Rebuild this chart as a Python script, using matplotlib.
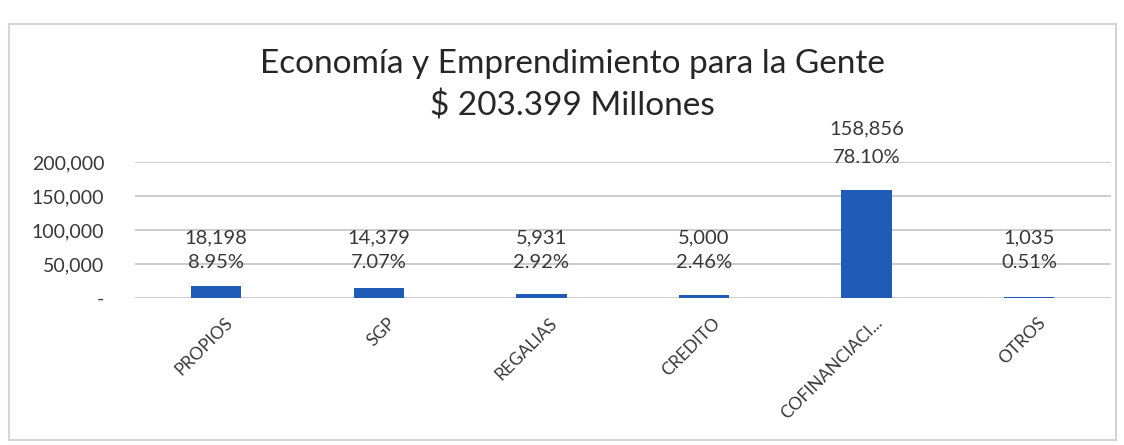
import matplotlib
matplotlib.use('Agg')
import matplotlib.pyplot as plt
from matplotlib.patches import Rectangle
from matplotlib.ticker import FuncFormatter
from matplotlib.transforms import ScaledTranslation

# Datos
categorias = ['PROPIOS', 'SGP', 'REGALIAS', 'CREDITO', 'COFINANCIACI...', 'OTROS']
valores = [18198, 14379, 5931, 5000, 158856, 1035]
porcentajes = ['8.95%', '7.07%', '2.92%', '2.46%', '78.10%', '0.51%']
titulo = 'Economía y Emprendimiento para la Gente\n$ 203.399 Millones'

plt.rcParams['font.family'] = ['Lato', 'DejaVu Sans']

fig = plt.figure(figsize=(11.24, 4.45), dpi=100)
fig.patch.set_facecolor('white')

# marco del grafico
fig.patches.append(Rectangle((0.008, 0.012), 0.985, 0.933, transform=fig.transFigure,
                             fill=False, edgecolor='#d4d4d4', linewidth=1.5))

ax = fig.add_axes([0.12, 0.33, 0.868, 0.306])
x = range(len(categorias))
ax.bar(x, valores, width=0.31, color='#1F5CB8', zorder=3)

ax.set_ylim(0, 200000)
ax.set_xlim(-0.5, len(categorias) - 0.5)
ax.set_yticks([0, 50000, 100000, 150000, 200000])
ax.yaxis.set_major_formatter(FuncFormatter(lambda v, p: '-' if v == 0 else f'{int(v):,}'))
ax.grid(axis='y', color='#c8c8c8', linewidth=1.3, zorder=0)
for s in ax.spines.values():
    s.set_visible(False)
ax.tick_params(axis='y', length=0, labelsize=14, colors='#383838', pad=22)
ax.tick_params(axis='x', length=0, pad=12)

ax.set_xticks(list(x))
ax.set_xticklabels(categorias, rotation=45, ha='right', rotation_mode='anchor',
                   fontsize=12.5, color='#383838')
desplaz = ScaledTranslation(8 / 100, 0, fig.dpi_scale_trans)
for lbl in ax.get_xticklabels():
    lbl.set_transform(lbl.get_transform() + desplaz)

# etiquetas de datos
for i, (v, pct) in enumerate(zip(valores, porcentajes)):
    if v > 100000:
        y_val, y_pct = v + 90000, v + 47000
    else:
        y_val, y_pct = 88000, 52000
    ax.text(i, y_val, f'{v:,}', ha='center', va='center', fontsize=14.5, color='#383838')
    ax.text(i, y_pct, pct, ha='center', va='center', fontsize=14.5, color='#383838')

fig.text(0.509, 0.808, titulo, ha='center', va='center', fontsize=24,
         color='#262626', linespacing=1.45)

plt.savefig('out.png', dpi=100)
